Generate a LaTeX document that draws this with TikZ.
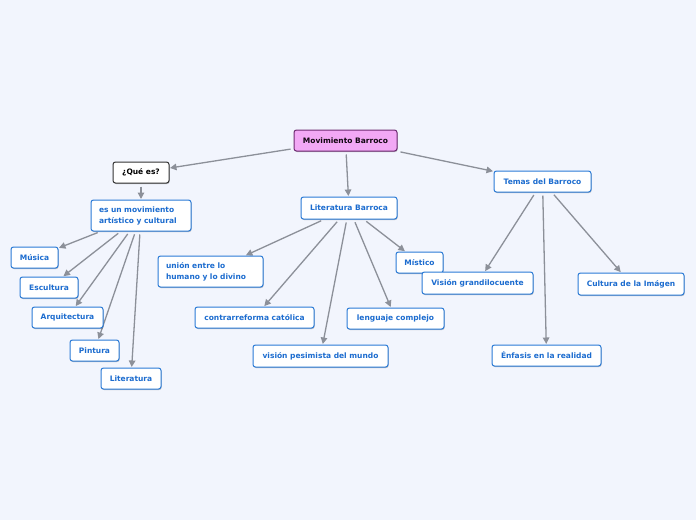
\documentclass[tikz,border=0pt]{standalone}
\usepackage{fontspec}
\setmainfont{DejaVu Sans}
\usetikzlibrary{arrows.meta,shadows}
\definecolor{bgc}{HTML}{F2F5FD}
\definecolor{bluec}{HTML}{2A7AD6}
\definecolor{bluet}{HTML}{1C6CCF}
\definecolor{edgec}{HTML}{8C9099}
\definecolor{pinkc}{HTML}{F2A8F5}
\definecolor{purpc}{HTML}{6E2A72}
\pgfdeclarelayer{bglayer}
\pgfdeclarelayer{edgelayer}
\pgfsetlayers{bglayer,edgelayer,main}
\tikzset{
  box/.style={draw=bluec, line width=1pt, fill=white, rounded corners=2.5pt,
    text=bluet, font=\fontsize{7.5}{11}\selectfont\bfseries, inner sep=0pt,
    drop shadow={shadow xshift=0.6pt, shadow yshift=-1pt, opacity=0.25, fill=black}},
  mainbox/.style={box, draw=purpc, fill=pinkc, text=black!85!purpc},
  quebox/.style={box, draw=black!80, text=black},
  twoline/.style={align=left, inner xsep=8pt},
  edge/.style={draw=edgec, line width=1.3pt, -{Triangle[length=6.5pt,width=6.5pt]},
    shorten <=3pt, shorten >=0.5pt},
}
\begin{document}
\begin{tikzpicture}[x=1pt,y=-1pt]
\begin{pgfonlayer}{bglayer}
\fill[bgc] (0,0) rectangle (696,520);
\end{pgfonlayer}
\useasboundingbox (0,0) rectangle (696,520);

\node[mainbox, minimum width=103pt, minimum height=21pt] (mb) at (345.5,140.5) {Movimiento Barroco};
\node[quebox, minimum width=56pt, minimum height=21pt] (que) at (141,172.5) {¿Qué es?};
\node[box, twoline, text width=84pt, minimum width=100pt, minimum height=31pt] (esun) at (141,215.5) {es un movimiento\\artístico y cultural};
\node[box, minimum width=47pt, minimum height=21pt] (musica) at (34.5,257.5) {Música};
\node[box, minimum width=58pt, minimum height=21pt] (escultura) at (49,287.5) {Escultura};
\node[box, minimum width=71pt, minimum height=21pt] (arq) at (67.5,317.5) {Arquitectura};
\node[box, minimum width=49pt, minimum height=21pt] (pintura) at (94.5,350.5) {Pintura};
\node[box, minimum width=60pt, minimum height=21pt] (lit) at (131,378.5) {Literatura};

\node[box, minimum width=96pt, minimum height=22pt] (lb) at (349,208) {Literatura Barroca};
\node[box, twoline, text width=89pt, minimum width=105pt, minimum height=31pt] (union) at (210.5,271.5) {unión entre lo\\humano y lo divino};
\node[box, minimum width=119pt, minimum height=21pt] (contra) at (254.5,317.5) {contrarreforma católica};
\node[box, minimum width=135pt, minimum height=22pt] (vision) at (320.5,356) {visión pesimista del mundo};
\node[box, minimum width=97pt, minimum height=21pt] (lenguaje) at (395.5,318.5) {lenguaje complejo};
\node[box, minimum width=47pt, minimum height=21pt] (mistico) at (419.5,262.5) {Místico};

\node[box, minimum width=97pt, minimum height=21pt] (temas) at (542.5,181.5) {Temas del Barroco};
\node[box, minimum width=111pt, minimum height=22pt] (visiong) at (477.5,283) {Visión grandilocuente};
\node[box, minimum width=106pt, minimum height=22pt] (cultura) at (631,284) {Cultura de la Imágen};
\node[box, minimum width=109pt, minimum height=21pt] (enfasis) at (546.5,355.5) {Énfasis en la realidad};

\begin{pgfonlayer}{edgelayer}
\draw[edge] (mb) -- (que);
\draw[edge] (mb) -- (lb);
\draw[edge] (mb) -- (temas);
\draw[edge] (que) -- (esun);
\draw[edge] (esun) -- (musica);
\draw[edge] (esun) -- (escultura);
\draw[edge] (esun) -- (arq);
\draw[edge] (esun) -- (pintura);
\draw[edge] (esun) -- (lit);
\draw[edge] (lb) -- (union);
\draw[edge] (lb) -- (contra);
\draw[edge] (lb) -- (vision);
\draw[edge] (lb) -- (lenguaje);
\draw[edge] (lb) -- (mistico);
\draw[edge] (temas) -- (visiong);
\draw[edge] (temas) -- (enfasis);
\draw[edge] (temas) -- (cultura);
\end{pgfonlayer}
\end{tikzpicture}
\end{document}
